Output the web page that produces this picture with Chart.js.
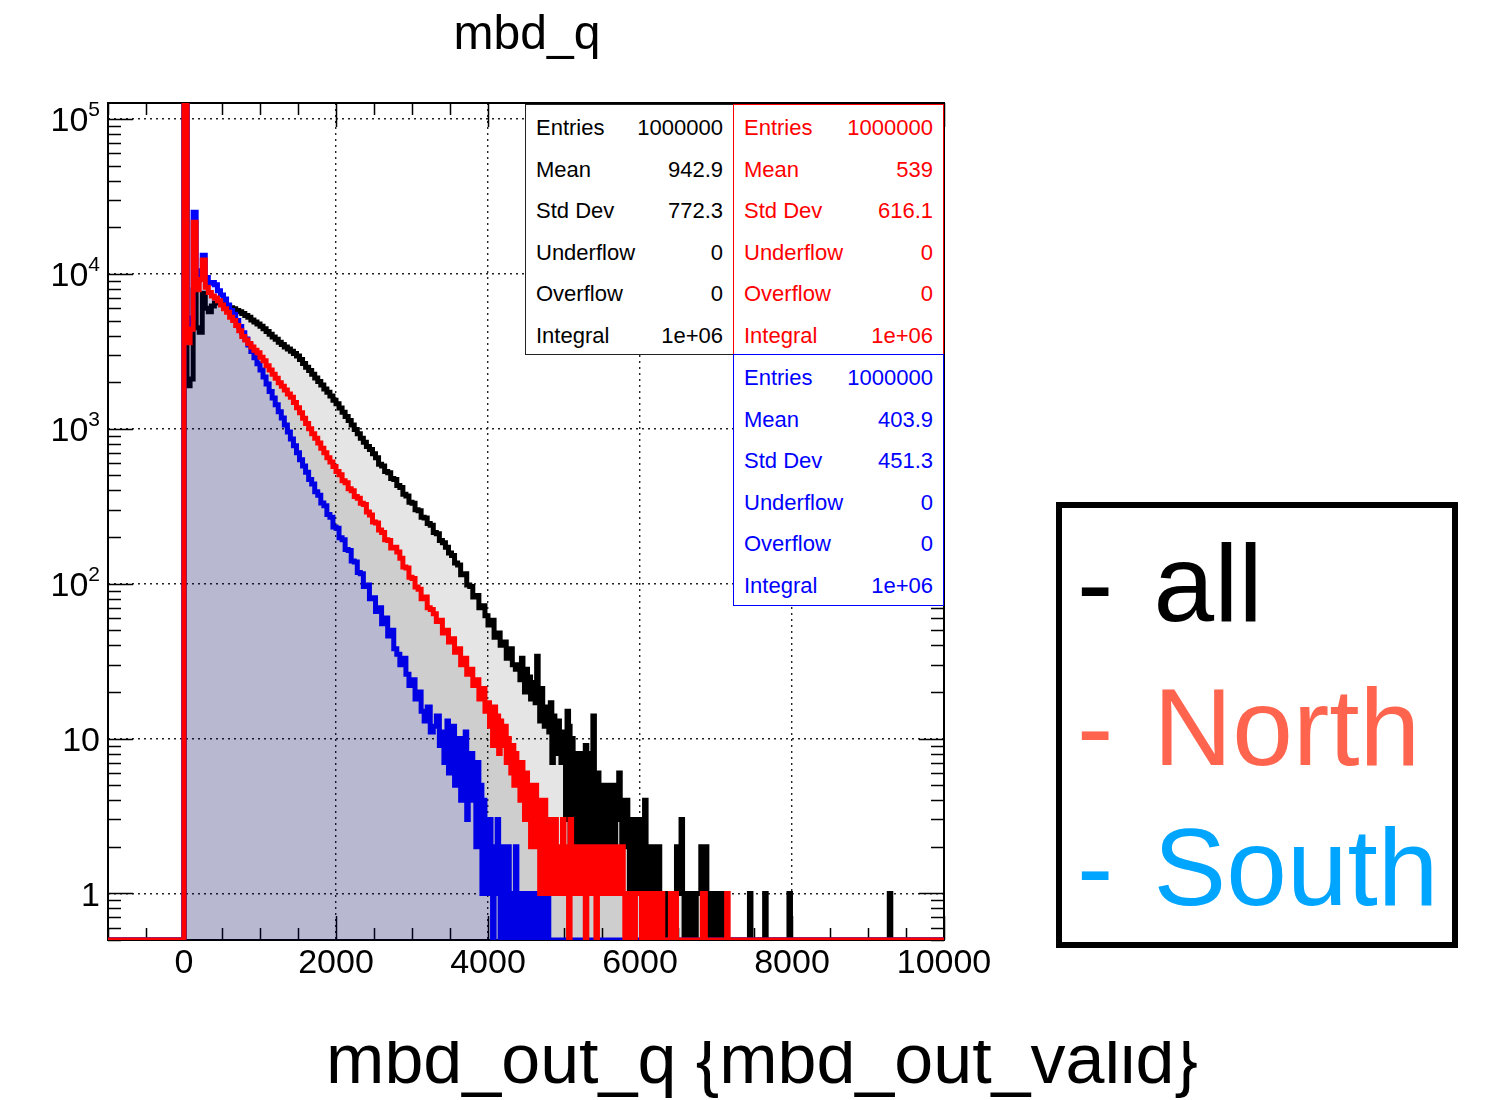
<!DOCTYPE html>
<html lang="en">
<head>
<meta charset="UTF-8">
<title>mbd_q</title>
<script src="https://cdn.jsdelivr.net/npm/chart.js@4"></script>
<style>
    body { margin: 0; background: #fff; font-family: 'Liberation Sans', Arial, Helvetica, sans-serif; }
    #wrap { position: relative; width: 1490px; height: 1100px; overflow: hidden; }
    #plot { position: absolute; left: 0; top: 0; }
    .txt { position: absolute; line-height: 1; white-space: nowrap; z-index: 2; }
    .title { font-size: 48px; left: 0; width: 1054px; text-align: center; top: 9px; }
    .xtitle-clip { position: absolute; left: 0; top: 1041px; width: 1490px; height: 59px; overflow: hidden; z-index: 2; }
    .xtitle { position: absolute; left: 0; width: 1524px; text-align: center; top: -17px; font-size: 70px; line-height: 1; white-space: nowrap; }
    .stats { position: absolute; background: #fff; border: 1.5px solid #222; box-sizing: border-box; z-index: 2; font-size: 22px; }
    .stats .row { position: absolute; left: 10px; right: 10px; line-height: 1; display: flex; justify-content: space-between; }
    .legend { position: absolute; left: 1056px; top: 502px; width: 402px; height: 446px; border: 6px solid #000; box-sizing: border-box; background: #fff; z-index: 2; }
    .legend .entry { position: absolute; left: 15px; font-size: 109px; line-height: 1; white-space: nowrap; word-spacing: 10px; }
    .ylab { position: absolute; z-index: 2; font-size: 34px; line-height: 1; white-space: nowrap; text-align: right; width: 100px; left: 0; }
    .ylab sup { font-size: 21px; vertical-align: 0; position: relative; top: -15px; }
</style>
</head>
<body>
<div id="wrap">
    <canvas id="plot" width="1490" height="1100"></canvas>
    <div class="txt title">mbd_q</div>
    <div class="xtitle-clip"><div class="xtitle">mbd_out_q {mbd_out_valid}</div></div>
    <div id="stats"></div>
    <div class="legend">
        <div class="entry" style="top:21px;color:#000">- all</div>
        <div class="entry" style="top:165px;color:#ff644e">- North</div>
        <div class="entry" style="top:305px;color:#00a5ff">- South</div>
    </div>
    <div id="ylabels"></div>
</div>
<script>
// axis ranges
const xMin = -1000, xMax = 10000;
const yMin = 0.5, yMax = 1.27e5;

const xTicks = [0, 2000, 4000, 6000, 8000, 10000];
const yDecades = [1, 10, 100, 1000, 10000, 100000];

// all (black): 40-wide bins from 0 to 4400, 20-wide bins from 4400 to 7200, then single counts
const allCounts = [
    200000, 1900, 2100, 7900, 4500, 4200, 7500, 6000, 5700, 6200,
    6500, 6500, 6400, 6300, 6200, 6050, 5950, 5800, 5700, 5550,
    5400, 5250, 5050, 4900, 4750, 4600, 4420, 4250, 4080, 3920,
    3780, 3620, 3500, 3380, 3280, 3170, 3060, 2950, 2800, 2640,
    2500, 2380, 2250, 2130, 2020, 1920, 1810, 1720, 1630, 1530,
    1450, 1360, 1280, 1200, 1130, 1060, 990, 930, 870, 820,
    770, 735, 690, 650, 590, 575, 530, 520, 478, 470,
    430, 418, 378, 368, 335, 330, 300, 296, 268, 265,
    245, 238, 214, 210, 190, 184, 172, 158, 152, 136,
    132, 114, 116, 98, 96, 82, 84, 70, 72, 62,
    54, 58, 45, 48, 40, 42, 33, 38, 30, 28
];
const allFine = [
    30, 24, 33, 26, 20, 28, 22, 25, 18, 23,
    20, 17, 34, 19, 13, 21, 15, 12, 16, 14,
    11, 17, 7, 14, 12, 8, 13, 10, 7, 11,
    9, 3, 15, 12, 2, 10, 5, 8, 2, 6,
    8, 2, 7, 4, 9, 1, 3, 8, 2, 14,
    4, 1, 6, 2, 3, 5, 1, 2, 5, 1,
    5, 3, 4, 2, 5, 3, 6, 4, 2, 3,
    2, 4, 3, 1, 3, 2, 3, 1, 3, 2,
    3, 1, 2, 4, 2, 1, 2, 2, 1, 2,
    1, 1, 2, 1, 1, 0, 1, 1, 0, 1,
    1, 0, 1, 1, 2, 1, 1, 3, 1, 0,
    1, 1, 0, 1, 1, 1, 0, 1, 1, 1,
    2, 2, 1, 2, 1, 0, 1, 1, 1, 0,
    1, 1, 0, 1, 1, 0, 1, 0, 0, 0
];
const allTail = [[7440, 1], [7640, 1], [7960, 1], [9280, 1]];

// North (red): 40-wide bins from 0 to 4000, 20-wide bins from 4000 to 7200
const northCounts = [
    200000, 3600, 4400, 21600, 7900, 9200, 12300, 8200, 7600, 7200,
    7000, 6700, 6300, 5950, 5650, 5250, 5000, 4650, 4300, 3950,
    3750, 3550, 3380, 3220, 3100, 2900, 2750, 2550, 2400, 2250,
    2120, 1980, 1880, 1780, 1680, 1600, 1480, 1370, 1270, 1170,
    1080, 1000, 930, 870, 810, 750, 700, 650, 610, 570,
    530, 505, 462, 448, 410, 398, 365, 356, 330, 325,
    290, 278, 250, 246, 222, 214, 192, 190, 170, 172,
    160, 146, 128, 126, 110, 108, 95, 92, 80, 82,
    70, 68, 64, 57, 58, 48, 50, 42, 44, 36,
    38, 30, 33, 26, 28, 22, 24, 18, 21, 15
];
const northFine = [
    17, 12, 15, 9, 16, 11, 14, 8, 13, 10,
    9, 12, 7, 10, 8, 6, 9, 5, 8, 7,
    6, 4, 7, 5, 3, 6, 4, 5, 2, 4,
    3, 5, 2, 4, 1, 3, 2, 4, 1, 3,
    2, 3, 1, 2, 3, 1, 2, 2, 1, 3,
    2, 1, 2, 0, 3, 1, 2, 1, 2, 1,
    1, 2, 1, 2, 0, 1, 2, 1, 1, 2,
    1, 0, 2, 1, 1, 2, 2, 1, 2, 2,
    2, 1, 1, 2, 1, 1, 2, 1, 2, 1,
    0, 1, 1, 0, 1, 1, 0, 1, 1, 1,
    1, 0, 1, 1, 1, 0, 1, 1, 0, 1,
    1, 1, 0, 1, 1, 0, 0, 0, 0, 0,
    1, 1, 0, 1, 0, 0, 0, 0, 0, 0,
    0, 0, 0, 0, 0, 0, 0, 0, 0, 0,
    0, 1, 1, 0, 0, 0, 0, 0, 0, 0,
    0, 0, 0, 0, 0, 0, 0, 1, 0, 0
];

// South (blue): 40-wide bins from 0 to 3400, 20-wide bins from 3400 to 4800
const southCounts = [
    150000, 4300, 5200, 25000, 9100, 10500, 13200, 9500, 8700, 8800,
    8500, 7800, 7300, 6900, 6300, 5800, 5500, 5000, 4570, 4170,
    3800, 3470, 3160, 2880, 2630, 2400, 2160, 1950, 1740, 1580,
    1430, 1290, 1175, 1060, 955, 860, 776, 700, 630, 575,
    525, 470, 440, 392, 372, 332, 318, 280, 268, 232,
    228, 198, 192, 166, 164, 140, 138, 118, 116, 96,
    98, 80, 81, 66, 70, 55, 60, 46, 50, 38,
    35, 30, 33, 26, 22, 24, 18, 20, 15, 13,
    16, 11, 12, 14, 9
];
const southFine = [
    11, 7, 9, 13, 6, 10, 8, 12, 5, 9,
    7, 10, 4, 8, 6, 11, 3, 7, 5, 8,
    4, 6, 2, 7, 3, 5, 1, 4, 3, 2,
    1, 3, 2, 0, 2, 1, 3, 1, 0, 2,
    1, 0, 1, 2, 1, 0, 1, 1, 2, 0,
    1, 1, 0, 1, 0, 1, 1, 0, 1, 0,
    1, 0, 1, 0, 0, 1, 0, 1, 0, 1
];

const statLabels = ['Entries', 'Mean', 'Std Dev', 'Underflow', 'Overflow', 'Integral'];
const statsAll = ['1000000', '942.9', '772.3', '0', '0', '1e+06'];
const statsNorth = ['1000000', '539', '616.1', '0', '0', '1e+06'];
const statsSouth = ['1000000', '403.9', '451.3', '0', '0', '1e+06'];

// step points: one point per bin left edge; empty bins sit on the frame bottom
function histPoints(segments, tail) {
    const pts = [{ x: xMin, y: yMin }];
    let end = 0;
    segments.forEach(([start, width, counts]) => {
        counts.forEach((n, i) => pts.push({ x: start + i * width, y: n > 0 ? n : yMin }));
        end = start + counts.length * width;
    });
    pts.push({ x: end, y: yMin });
    (tail || []).forEach(([x, n]) => {
        pts.push({ x: x, y: n });
        pts.push({ x: x + 20, y: yMin });
    });
    pts.push({ x: xMax, y: yMin });
    return pts;
}

const FONT = "'Liberation Sans', Arial, Helvetica, sans-serif";

// frame + inside ticks on all four sides, ROOT style
const framePlugin = {
    id: 'frame',
    beforeDatasetsDraw(chart) {
        const { ctx, chartArea: a, scales } = chart;
        ctx.save();
        ctx.strokeStyle = '#000';
        ctx.lineWidth = 1.5;
        ctx.beginPath();
        for (let v = xMin; v <= xMax; v += 500) {
            const px = Math.round(scales.x.getPixelForValue(v)) + 0.5;
            const len = v % 2000 === 0 ? 24 : 12;
            ctx.moveTo(px, a.bottom); ctx.lineTo(px, a.bottom - len);
            ctx.moveTo(px, a.top); ctx.lineTo(px, a.top + len);
        }
        for (let k = -1; k <= 5; k++) {
            for (let m = 1; m <= 9; m++) {
                const v = m * Math.pow(10, k);
                if (v < yMin || v > yMax) continue;
                const py = Math.round(scales.y.getPixelForValue(v)) + 0.5;
                const len = m === 1 ? 25 : 13;
                ctx.moveTo(a.left, py); ctx.lineTo(a.left + len, py);
                ctx.moveTo(a.right, py); ctx.lineTo(a.right - len, py);
            }
        }
        ctx.stroke();
        ctx.lineWidth = 2;
        ctx.strokeRect(a.left, a.top, a.right - a.left, a.bottom - a.top);
        ctx.restore();
    }
};

const chart = new Chart(document.getElementById('plot').getContext('2d'), {
    type: 'line',
    data: {
        datasets: [
            { label: 'North', data: histPoints([[0, 40, northCounts], [4000, 20, northFine]]), borderColor: '#ff0000', backgroundColor: 'rgba(0,0,0,0.1)', fill: 'start', order: 0 },
            { label: 'South', data: histPoints([[0, 40, southCounts], [3400, 20, southFine]]), borderColor: '#0000ff', backgroundColor: 'rgba(0,0,255,0.11)', fill: 'start', order: 1 },
            { label: 'all', data: histPoints([[0, 40, allCounts], [4400, 20, allFine]], allTail), borderColor: '#000000', backgroundColor: 'rgba(0,0,0,0.1)', fill: 'start', order: 2 }
        ]
    },
    options: {
        responsive: false,
        animation: false,
        elements: {
            line: { stepped: true, borderWidth: 5, tension: 0, borderJoinStyle: 'miter' },
            point: { radius: 0, hoverRadius: 0 }
        },
        layout: { padding: { left: 0, top: 103, right: 546, bottom: 0 } },
        plugins: {
            legend: { display: false },
            tooltip: { enabled: false },
            filler: { propagate: false }
        },
        scales: {
            x: {
                type: 'linear', min: xMin, max: xMax,
                afterBuildTicks: s => { s.ticks = xTicks.map(v => ({ value: v })); },
                afterFit: s => { s.height = 160; },
                ticks: {
                    autoSkip: false, maxRotation: 0, padding: 3, color: '#000',
                    font: { family: FONT, size: 34 },
                    callback: v => String(v)
                },
                grid: { color: '#222', lineWidth: 1.4, drawTicks: false },
                border: { display: false, dash: [2, 4] }
            },
            y: {
                type: 'logarithmic', min: yMin, max: yMax,
                afterBuildTicks: s => { s.ticks = yDecades.map(v => ({ value: v })); },
                afterFit: s => { s.width = 108; },
                ticks: { display: false },
                grid: { color: '#222', lineWidth: 1.4, drawTicks: false },
                border: { display: false, dash: [2, 4] }
            }
        }
    },
    plugins: [framePlugin]
});

// y tick labels with superscript exponents, placed from the log scale
const yl = document.getElementById('ylabels');
yDecades.forEach(v => {
    const py = chart.scales.y.getPixelForValue(v);
    const k = Math.round(Math.log10(v));
    const d = document.createElement('div');
    d.className = 'ylab';
    d.innerHTML = k === 0 ? '1' : k === 1 ? '10' : '10<sup>' + k + '</sup>';
    d.style.top = (py + 12 - 0.8465 * 34) + 'px';
    yl.appendChild(d);
});

// stats boxes
function statsBox(left, top, w, h, color, values) {
    const box = document.createElement('div');
    box.className = 'stats';
    Object.assign(box.style, { left: left + 'px', top: top + 'px', width: w + 'px', height: h + 'px', borderColor: color, color: color === '#222' ? '#000' : color });
    statLabels.forEach((lab, j) => {
        const r = document.createElement('div');
        r.className = 'row';
        r.style.top = (11.9 + 41.6 * j) + 'px';
        r.innerHTML = '<span>' + lab + '</span><span>' + values[j] + '</span>';
        box.appendChild(r);
    });
    document.getElementById('stats').appendChild(box);
}
statsBox(525, 104, 209, 251, '#222', statsAll);
statsBox(733, 104, 211, 251, '#ff0000', statsNorth);
statsBox(733, 354, 211, 252, '#0000ff', statsSouth);
</script>
</body>
</html>
